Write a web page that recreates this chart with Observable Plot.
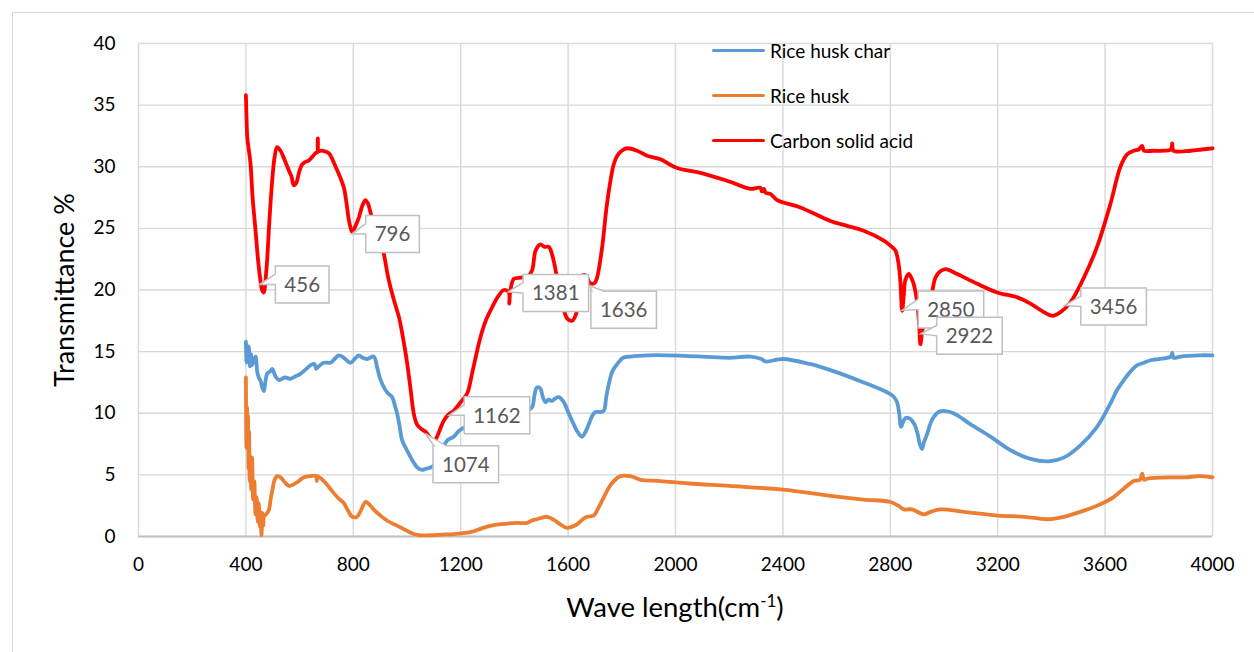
<!DOCTYPE html>
<html>
<head>
<meta charset="utf-8">
<script src="https://cdn.jsdelivr.net/npm/d3@7"></script>
<script src="https://cdn.jsdelivr.net/npm/@observablehq/plot@0.6"></script>
<style>
  body { margin: 0; background: #fff; }
  #wrap { position: relative; width: 1254px; height: 652px; overflow: hidden; font-family: Lato, "Open Sans", sans-serif; }
  #frame { position: absolute; left: 12px; top: 12px; width: 1300px; height: 700px; border: 1.5px solid #d9d9d9; box-sizing: border-box; }
  #chart { position: absolute; left: 0; top: 0; }
  #legend { position: absolute; left: 712px; top: 38px; }
  .item { position: relative; height: 45px; }
  .item .sw { position: absolute; left: 0; top: 11px; width: 53px; height: 0; border-top: 3.5px solid; border-radius: 2px; }
  .item .lb { position: absolute; left: 58px; top: 0; font-size: 19px; color: #000; white-space: nowrap; line-height: 26px; }
  #xtitle { position: absolute; left: 0; width: 1350px; top: 589px; text-align: center; font-size: 27.5px; line-height: 36px; color: #000; white-space: nowrap; }
  #xtitle sup { font-size: 17px; vertical-align: 0; position: relative; top: -10px; }
</style>
</head>
<body>
<div id="wrap">
  <div id="frame"></div>
  <div id="chart"></div>
  <div id="legend"></div>
  <div id="xtitle"></div>
</div>
<script>
// ---- data ----
const seriesNames = ["Rice husk char", "Rice husk", "Carbon solid acid"];
const seriesColors = ["#5B9BD5", "#ED7D31", "#FF0000"];

const xTicks = [0, 400, 800, 1200, 1600, 2000, 2400, 2800, 3200, 3600, 4000];
const yTicks = [0, 5, 10, 15, 20, 25, 30, 35, 40];

const charX = [400,401,404,407,411,415,419,423,428,436,442,448,455,462,467,473,479,490,498,510,523,545,566,585,603,625,641,655,662,666,690,715,730,746,765,790,805,821,835,852,876,889,900,914,930,945,955,963,972,982,995,1007,1022,1038,1057,1070,1088,1110,1130,1150,1174,1195,1218,1250,1300,1350,1420,1445,1466,1475,1484,1497,1506,1516,1528,1540,1552,1565,1584,1600,1621,1635,1652,1665,1677,1690,1702,1720,1733,1742,1752,1765,1783,1805,1832,1900,1969,2100,2200,2279,2320,2335,2400,2500,2577,2701,2788,2810,2825,2833,2840,2848,2856,2870,2881,2892,2902,2910,2918,2926,2937,2950,2962,2980,2999,3036,3099,3173,3248,3322,3390,3446,3508,3570,3620,3645,3670,3695,3720,3745,3769,3800,3845,3850,3855,3881,3950,4000];
const charY = [15.8,14.1,15.5,14.3,15.4,13.8,14.8,13.9,14.2,14.6,13.4,12.9,12.6,12.0,11.8,12.6,13.2,13.4,13.6,13.0,12.7,12.9,12.8,13.0,13.2,13.6,13.9,14.0,13.6,13.7,14.1,14.1,14.4,14.7,14.5,14.1,14.4,14.7,14.5,14.4,14.6,13.7,12.8,12.1,11.6,11.3,10.6,10.0,9.0,7.8,7.2,6.7,6.1,5.6,5.4,5.5,5.6,6.0,7.0,7.8,8.1,8.6,8.9,9.3,9.6,9.8,10.0,10.2,10.5,11.5,12.1,12.0,11.3,10.9,11.1,11.0,11.2,11.3,10.9,10.1,9.1,8.5,8.1,8.5,9.1,9.8,10.1,10.1,10.2,11.3,12.4,13.4,14.0,14.5,14.6,14.7,14.7,14.6,14.5,14.6,14.4,14.2,14.4,14.0,13.5,12.5,11.7,11.4,10.9,10.0,8.9,9.3,9.6,9.6,9.4,9.0,8.3,7.5,7.1,7.7,8.3,9.2,9.7,10.1,10.2,10.0,9.1,8.1,7.0,6.3,6.1,6.4,7.4,8.9,10.8,11.9,12.7,13.4,13.9,14.1,14.3,14.4,14.6,14.9,14.5,14.6,14.7,14.7];

const huskX = [400,401,402,404,406,408,410,412,414,417,420,423,427,431,436,440,444,448,452,455,458,462,465,467,475,485,492,498,507,516,529,545,560,575,591,616,640,660,664,666,690,710,728,745,765,780,796,814,830,845,855,864,880,901,925,951,970,988,1005,1025,1050,1088,1130,1174,1236,1270,1299,1348,1410,1447,1465,1484,1522,1547,1570,1596,1615,1634,1655,1671,1696,1710,1733,1750,1770,1795,1832,1870,1944,2050,2200,2400,2577,2700,2801,2830,2850,2880,2925,2950,2987,3074,3198,3300,3385,3446,3521,3580,3632,3670,3707,3730,3738,3745,3757,3856,3900,3950,4000];
const huskY = [12.9,9.0,7.2,10.5,8.0,9.8,5.5,8.5,4.5,6.5,3.8,6.4,3.0,4.5,1.8,3.2,1.2,2.7,0.8,2.0,0.1,1.9,0.9,1.6,1.8,2.1,3.0,3.7,4.6,4.9,4.8,4.4,4.1,4.2,4.4,4.8,4.9,4.9,4.5,4.9,4.5,4.0,3.5,3.1,2.7,2.1,1.6,1.6,2.2,2.8,2.7,2.5,2.1,1.7,1.3,1.0,0.8,0.6,0.4,0.2,0.1,0.1,0.15,0.2,0.35,0.6,0.8,1.0,1.1,1.1,1.3,1.4,1.6,1.35,1.0,0.7,0.8,1.0,1.4,1.6,1.7,2.2,3.2,3.9,4.5,4.9,4.9,4.6,4.5,4.3,4.1,3.8,3.3,3.0,2.8,2.5,2.2,2.2,1.8,2.0,2.2,2.0,1.7,1.6,1.4,1.6,2.1,2.6,3.2,3.9,4.5,4.6,5.1,4.6,4.7,4.8,4.8,4.9,4.8];

const acidX = [400,403,405,410,417,425,436,445,454,460,467,473,479,488,498,507,516,529,545,560,570,578,585,591,600,610,622,634,647,659,666,668,670,684,709,722,734,750,765,775,785,796,810,821,833,845,855,864,880,900,914,930,951,970,982,990,1001,1013,1025,1035,1044,1055,1069,1080,1094,1103,1112,1125,1137,1155,1174,1200,1224,1245,1274,1295,1317,1340,1361,1379,1381,1384,1398,1423,1450,1466,1479,1497,1512,1528,1546,1560,1572,1585,1596,1615,1633,1646,1665,1680,1690,1700,1708,1727,1742,1758,1770,1783,1800,1820,1857,1894,1944,2006,2093,2200,2279,2316,2322,2330,2335,2353,2379,2465,2577,2639,2701,2776,2800,2819,2831,2838,2844,2850,2856,2869,2880,2887,2895,2902,2908,2912,2918,2930,2950,2968,2985,3006,3049,3124,3198,3273,3322,3372,3403,3434,3471,3521,3570,3620,3657,3682,3707,3725,3738,3745,3780,3819,3845,3850,3855,3918,3960,4000];
const acidY = [35.8,33.5,32.4,31.5,30.3,27.5,24.8,22.5,20.8,20.0,19.8,20.8,22.4,25.8,28.9,30.8,31.6,31.3,30.5,29.7,29.2,28.5,28.6,28.9,29.7,30.2,30.4,30.5,30.8,31.1,31.2,32.3,31.3,31.3,31.1,30.6,30.0,29.2,28.3,27.0,25.5,24.7,25.3,25.9,26.8,27.3,27.0,26.3,25.0,24.0,22.9,21.0,19.2,17.8,16.5,15.5,14.0,12.0,10.0,9.2,8.9,8.7,8.5,8.2,7.8,7.8,8.1,8.8,9.4,9.9,10.2,10.9,11.6,13.5,16.2,17.6,18.6,19.5,20.0,19.8,18.9,19.8,20.9,21.0,21.1,21.6,23.2,23.7,23.5,23.5,22.4,20.8,19.4,18.3,17.7,17.5,18.3,21.0,21.2,20.6,20.5,20.6,21.0,23.5,26.5,28.9,30.2,30.9,31.3,31.5,31.3,30.9,30.6,29.9,29.5,28.8,28.2,28.3,28.0,28.2,27.9,27.8,27.3,26.7,25.6,25.2,24.8,24.0,23.6,23.2,22.1,20.5,18.3,19.5,20.8,21.3,20.9,20.5,19.7,18.6,17.0,15.6,16.5,18.0,19.2,21.0,21.5,21.7,21.3,20.5,19.8,19.4,18.9,18.2,17.9,18.2,19.0,21.0,23.5,27.0,30.0,31.0,31.3,31.4,31.7,31.3,31.3,31.3,31.4,31.9,31.3,31.3,31.4,31.5];

// peak annotations (callout label and the curve point it points at)
const annLabel = ["456", "796", "1074", "1162", "1381", "1636", "2850", "2922", "3456"];
const annX     = [452, 796, 1069, 1159, 1378, 1683, 2846, 2915, 3452];
const annY     = [20.4, 24.5, 8.33, 9.8, 19.8, 20.3, 18.3, 16.4, 18.7];

const xTitleMain = "Wave length(cm";
const xTitleSup = "-1";
const xTitleEnd = ")";
const yTitle = "Transmittance %";

// ---- layout of callouts (box offset from its point, in px; side of the wedge) ----
const calloutLayout = [
  {dx: 16, dy: 0, side: "left"},
  {dx: 14, dy: 0, side: "left"},
  {dx: 8, dy: 31, side: "top"},
  {dx: 15, dy: 0, side: "left"},
  {dx: 15, dy: 1, side: "left"},
  {dx: 1, dy: 24, side: "top"},
  {dx: 16, dy: -1, side: "left"},
  {dx: 16, dy: 2, side: "left"},
  {dx: 16, dy: 1, side: "left"}
];
const calloutFontSize = 20.5, calloutPadX = 9, calloutH = 37;
const FONT = "Lato, 'Open Sans', sans-serif";

// ---- build tables ----
const rows = [];
[[charX, charY, seriesNames[0]], [huskX, huskY, seriesNames[1]], [acidX, acidY, seriesNames[2]]]
  .forEach(([xs, ys, s]) => xs.forEach((x, i) => rows.push({x, y: ys[i], series: s})));
const ann = annLabel.map((t, i) => ({label: t, x: annX[i], y: annY[i]}));

function calloutRender(index, scales, values) {
  const ns = "http://www.w3.org/2000/svg";
  const g = document.createElementNS(ns, "g");
  g.setAttribute("aria-label", "callouts");
  const ctx = document.createElement("canvas").getContext("2d");
  ctx.font = `${calloutFontSize}px Lato`;
  for (const i of index) {
    const px = values.x[i], py = values.y[i];
    const L = calloutLayout[i];
    const label = String(values.text ? values.text[i] : ann[i].label);
    const w = ctx.measureText(label).width + 2 * calloutPadX, h = calloutH;
    const bx = px + L.dx, by = py + L.dy - h / 2;
    let d;
    if (L.side === "left") {
      const y1 = by + 0.22 * h, y2 = by + 0.5 * h;
      d = `M${bx},${by}H${bx + w}V${by + h}H${bx}V${y2}L${px},${py}L${bx},${y1}Z`;
    } else {
      const x1 = bx + 1, x2 = bx + 13;
      d = `M${bx},${by}H${x1}L${px},${py}L${x2},${by}H${bx + w}V${by + h}H${bx}Z`;
    }
    const p = document.createElementNS(ns, "path");
    p.setAttribute("d", d);
    p.setAttribute("fill", "#fff");
    p.setAttribute("stroke", "#bfbfbf");
    p.setAttribute("stroke-width", "1.5");
    p.setAttribute("stroke-linejoin", "miter");
    g.appendChild(p);
    const t = document.createElementNS(ns, "text");
    t.setAttribute("x", bx + w / 2);
    t.setAttribute("y", by + h / 2);
    t.setAttribute("dy", "0.36em");
    t.setAttribute("text-anchor", "middle");
    t.setAttribute("font-size", calloutFontSize);
    t.setAttribute("font-family", FONT);
    t.setAttribute("fill", "#595959");
    t.textContent = label;
    g.appendChild(t);
  }
  return g;
}

const plot = Plot.plot({
  width: 1254, height: 652,
  marginLeft: 138, marginRight: 42, marginTop: 43, marginBottom: 116,
  x: {domain: [0, 4000]},
  y: {domain: [0, 40]},
  color: {domain: seriesNames, range: seriesColors},
  style: {fontFamily: FONT, fontSize: "19px", color: "#000", background: "transparent", overflow: "visible"},
  marks: [
    Plot.gridX(xTicks, {stroke: "#d9d9d9", strokeOpacity: 1, strokeWidth: 1.4}),
    Plot.gridY(yTicks, {stroke: "#d9d9d9", strokeOpacity: 1, strokeWidth: 1.4}),
    Plot.ruleY([0], {stroke: "#bfbfbf", strokeWidth: 2}),
    Plot.axisX(xTicks, {tickSize: 0, tickPadding: 21, label: null, tickFormat: d => String(d), fontSize: 19}),
    Plot.axisY(yTicks, {tickSize: 0, tickPadding: 23, label: null, tickFormat: d => String(d), fontSize: 19}),
    Plot.line(rows, {x: "x", y: "y", z: "series", stroke: "series", strokeWidth: 3.8, curve: "catmull-rom", strokeLinejoin: "round"}),
    Plot.text(ann, {x: "x", y: "y", text: "label", render: calloutRender}),
    Plot.text([yTitle], {frameAnchor: "left", dx: -73, rotate: -90, textAnchor: "middle", lineAnchor: "middle", fontSize: 27, fill: "#000"})
  ]
});
document.getElementById("chart").appendChild(plot);

// x-axis title (with superscript) centred under the plot frame
const xt = document.getElementById("xtitle");
xt.style.width = (2 * 675) + "px";
xt.innerHTML = `${xTitleMain}<sup>${xTitleSup}</sup>${xTitleEnd}`;

// legend
const legend = document.getElementById("legend");
seriesNames.forEach((s, i) => {
  const it = document.createElement("div");
  it.className = "item";
  it.innerHTML = `<div class="sw" style="border-color:${seriesColors[i]}"></div><div class="lb">${s}</div>`;
  legend.appendChild(it);
});
</script>
</body>
</html>
